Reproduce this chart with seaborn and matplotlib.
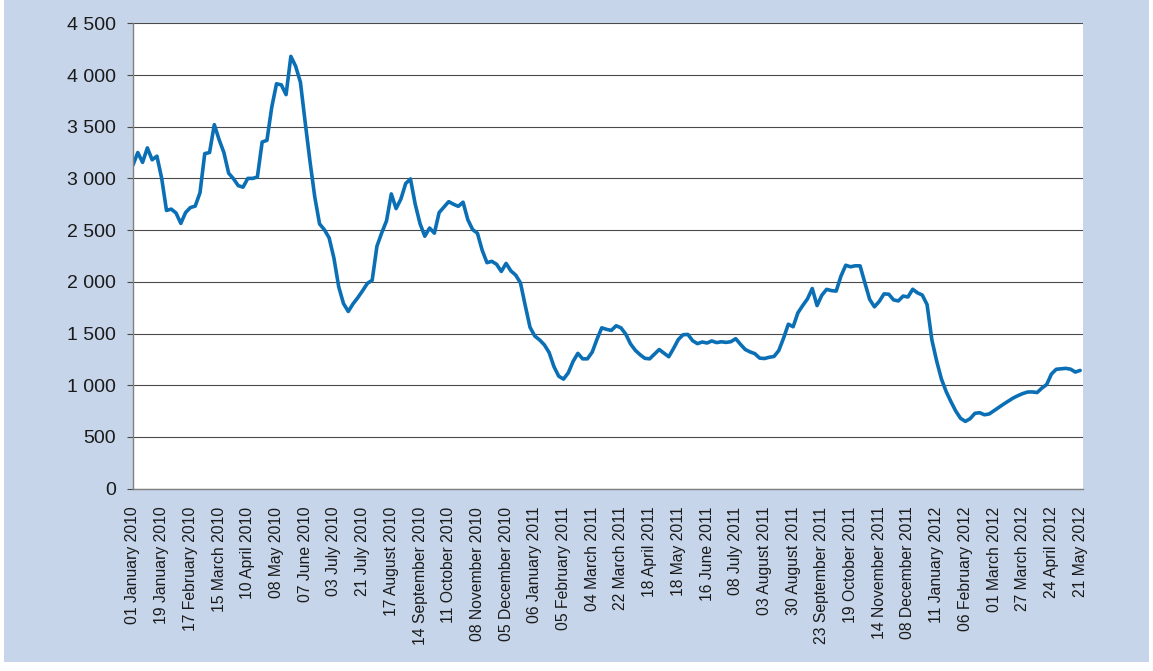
import numpy as np
import pandas as pd
import matplotlib
matplotlib.use("Agg")
import matplotlib.pyplot as plt
from matplotlib.patches import Rectangle
import seaborn as sns

# ---- data -------------------------------------------------------------
tick_labels = [
    "01 January 2010", "19 January 2010", "17 February 2010", "15 March 2010",
    "10 April 2010", "08 May 2010", "07 June 2010", "03 July 2010",
    "21 July 2010", "17 August 2010", "14 September 2010", "11 October 2010",
    "08 November 2010", "05 December 2010",
    "06 January 2011", "05 February 2011", "04 March 2011", "22 March 2011",
    "18 April 2011", "18 May 2011", "16 June 2011", "08 July 2011",
    "03 August 2011", "30 August 2011", "23 September 2011", "19 October 2011",
    "14 November 2011", "08 December 2011",
    "11 January 2012", "06 February 2012", "01 March 2012", "27 March 2012",
    "24 April 2012", "21 May 2012",
]
points_per_label = 6

values = [
    # 01 Jan 2010
    3130, 3250, 3155, 3295, 3180, 3215,
    # 19 Jan 2010
    3000, 2690, 2703, 2665, 2565, 2670,
    # 17 Feb 2010
    2718, 2732, 2860, 3240, 3250, 3520,
    # 15 Mar 2010
    3375, 3250, 3050, 2997, 2930, 2915,
    # 10 Apr 2010
    3000, 3000, 3013, 3352, 3368, 3687,
    # 08 May 2010
    3915, 3905, 3810, 4180, 4085, 3930,
    # 07 Jun 2010
    3540, 3165, 2820, 2560, 2504, 2425,
    # 03 Jul 2010
    2230, 1953, 1790, 1713, 1787, 1847,
    # 21 Jul 2010
    1914, 1985, 2015, 2345, 2474, 2590,
    # 17 Aug 2010
    2850, 2708, 2800, 2950, 2995, 2750,
    # 14 Sep 2010
    2563, 2441, 2520, 2470, 2670, 2722,
    # 11 Oct 2010
    2775, 2750, 2730, 2770, 2600, 2505,
    # 08 Nov 2010
    2470, 2305, 2185, 2198, 2170, 2100,
    # 05 Dec 2010
    2178, 2105, 2065, 1990, 1770, 1560,
    # 06 Jan 2011
    1475, 1438, 1390, 1315, 1180, 1087,
    # 05 Feb 2011
    1059, 1120, 1230, 1308, 1255, 1255,
    # 04 Mar 2011
    1320, 1445, 1555, 1540, 1530, 1575,
    # 22 Mar 2011
    1555, 1495, 1400, 1338, 1295, 1260,
    # 18 Apr 2011
    1255, 1300, 1345, 1310, 1275, 1355,
    # 18 May 2011
    1442, 1488, 1491, 1430, 1402, 1418,
    # 16 Jun 2011
    1408, 1428, 1412, 1420, 1414, 1421,
    # 08 Jul 2011
    1450, 1395, 1345, 1322, 1305, 1262,
    # 03 Aug 2011
    1258, 1270, 1278, 1335, 1455, 1590,
    # 30 Aug 2011
    1565, 1700, 1770, 1835, 1935, 1770,
    # 23 Sep 2011
    1870, 1927, 1915, 1910, 2055, 2160,
    # 19 Oct 2011
    2145, 2155, 2154, 1990, 1830, 1758,
    # 14 Nov 2011
    1810, 1883, 1880, 1825, 1815, 1862,
    # 08 Dec 2011
    1853, 1928, 1893, 1872, 1780, 1440,
    # 11 Jan 2012
    1235, 1060, 938, 840, 750, 680,
    # 06 Feb 2012
    650, 676, 728, 734, 714, 722,
    # 01 Mar 2012
    754, 787, 817, 846, 876, 899,
    # 27 Mar 2012
    919, 934, 935, 929, 972, 1006,
    # 24 Apr 2012
    1108, 1154, 1159, 1163, 1155, 1127,
    # 21 May 2012
    1143,
]
y_ticks = [0, 500, 1000, 1500, 2000, 2500, 3000, 3500, 4000, 4500]

# ---- style ------------------------------------------------------------
sns.set_style("white")
plt.rcParams['font.family'] = ['Liberation Sans', 'DejaVu Sans']

BG = "#C6D5EA"
LINE = "#0A6FB5"
GRID = "#4a4a4a"

W, H = 1153, 671
fig = plt.figure(figsize=(W / 100, H / 100), dpi=100)
fig.patch.set_facecolor("white")
fig.patches.append(Rectangle((4 / W, 9 / H), 1 - 8 / W, 1 - 9 / H,
                             transform=fig.transFigure, facecolor=BG,
                             edgecolor="none", zorder=-10))

left, right = 133 / W, 1083 / W
top, bottom = 1 - 23.3 / H, 1 - 488.6 / H
ax = fig.add_axes([left, bottom, right - left, top - bottom])
ax.set_facecolor("white")

df = pd.DataFrame({"obs": np.arange(len(values)), "value": values})
sns.lineplot(data=df, x="obs", y="value", ax=ax, color=LINE,
             linewidth=2.6, solid_joinstyle="round", solid_capstyle="round")

ax.set_xlim(0, len(values) - 1 + 0.6)
ax.set_ylim(0, 4500)
ax.set_yticks(y_ticks)
ax.set_yticklabels([f"{v:,}".replace(",", " ") for v in y_ticks], fontsize=14,
                   color="#1a1a1a")
ax.set_xticks(np.arange(len(tick_labels)) * points_per_label)
ax.set_xticklabels(tick_labels, rotation=90, fontsize=11.3, color="#1a1a1a")
ax.set_xlabel("")
ax.set_ylabel("")

ax.yaxis.grid(True, color=GRID, linewidth=0.8)
ax.xaxis.grid(False)
ax.set_axisbelow(True)
for s in ["top", "right"]:
    ax.spines[s].set_visible(False)
for s in ["left", "bottom"]:
    ax.spines[s].set_color("#808080")
    ax.spines[s].set_linewidth(1.0)

ax.tick_params(axis="y", length=4.5, width=0.8, color=GRID, pad=8, left=True)
ax.tick_params(axis="x", length=0, pad=13)

fig.savefig("out.png", dpi=100, facecolor=fig.get_facecolor())
